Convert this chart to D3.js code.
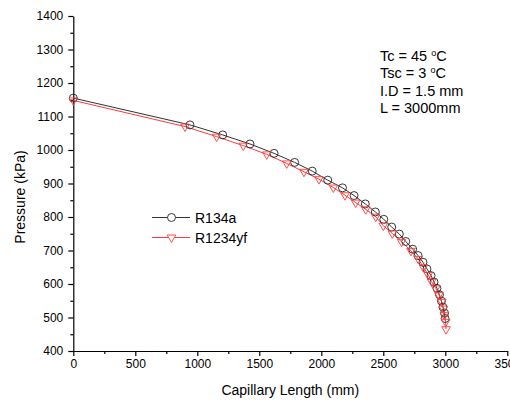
<!DOCTYPE html>
<html>
<head>
<meta charset="utf-8">
<script src="https://cdn.jsdelivr.net/npm/d3@7"></script>
<style>
  html, body { margin: 0; padding: 0; background: #fff; }
  svg { display: block; font-family: "Liberation Sans", Arial, sans-serif; }
</style>
</head>
<body>
<svg id="chart" width="510" height="403"></svg>
<script>
// ---- data ----
const xTicks = [0, 500, 1000, 1500, 2000, 2500, 3000, 3500];
const yTicks = [400, 500, 600, 700, 800, 900, 1000, 1100, 1200, 1300, 1400];

const r134aX = [0, 941, 1205, 1425, 1619, 1785, 1927, 2052, 2171, 2264, 2355, 2436, 2504, 2568, 2629, 2681, 2737, 2780, 2820, 2852, 2885, 2909, 2933, 2953, 2969, 2981, 2994, 2998];
const r134aY = [1155, 1075, 1045, 1018, 990, 963, 937, 910, 887, 864, 839, 815, 793, 770, 749, 727, 704, 685, 665, 645, 625, 606, 587, 568, 549, 531, 513, 497];

const r1234yfX = [0, 901, 1156, 1371, 1560, 1721, 1860, 1981, 2097, 2191, 2277, 2358, 2439, 2500, 2573, 2648, 2723, 2782, 2823, 2863, 2890, 2923, 2949, 2971, 2984, 2992, 3003, 3006];
const r1234yfY = [1148, 1070, 1040, 1013, 987, 960, 935, 913, 888, 865, 843, 823, 801, 774, 751, 726, 699, 675, 650, 627, 607, 587, 567, 547, 527, 507, 487, 465];

const seriesNames = ["R134a", "R1234yf"];
const annotations = ["Tc = 45 |C", "Tsc = 3 |C", "I.D = 1.5 mm", "L = 3000mm"];

// ---- chart ----
const svg = d3.select("#chart");
const x = d3.scaleLinear().domain([0, 3500]).range([73.3, 507.3]);
const y = d3.scaleLinear().domain([400, 1400]).range([351, 16]);

const xMinor = d3.range(250, 3500, 500);
const yMinor = d3.range(450, 1400, 100);

// minor ticks
svg.append("g").attr("transform", `translate(0,${y(400)})`)
  .call(d3.axisBottom(x).tickValues(xMinor).tickSize(3).tickSizeOuter(0).tickFormat(""))
  .call(g => g.select(".domain").remove())
  .call(g => g.selectAll("line").attr("stroke", "#000").attr("stroke-width", 1.2));
svg.append("g").attr("transform", `translate(${x(0)},0)`)
  .call(d3.axisLeft(y).tickValues(yMinor).tickSize(3).tickSizeOuter(0).tickFormat(""))
  .call(g => g.select(".domain").remove())
  .call(g => g.selectAll("line").attr("stroke", "#000").attr("stroke-width", 1.2));

// major axes
const xAxis = svg.append("g").attr("transform", `translate(0,${y(400)})`)
  .call(d3.axisBottom(x).tickValues(xTicks).tickSize(5).tickSizeOuter(0).tickPadding(3).tickFormat(d3.format("d")));
const yAxis = svg.append("g").attr("transform", `translate(${x(0)},0)`)
  .call(d3.axisLeft(y).tickValues(yTicks).tickSize(5).tickSizeOuter(0).tickPadding(5).tickFormat(d3.format("d")));
[xAxis, yAxis].forEach(g => {
  g.attr("font-family", null).attr("font-size", null);
  g.selectAll(".domain").attr("stroke", "#000").attr("stroke-width", 1.2);
  g.selectAll(".tick line").attr("stroke", "#000").attr("stroke-width", 1.2);
  g.selectAll(".tick text").attr("fill", "#000").style("font-size", "12px");
});

// axis titles
svg.append("text").attr("x", (x(0) + x(3500)) / 2).attr("y", 395)
  .attr("text-anchor", "middle").style("font-size", "14px").text("Capillary Length (mm)");
svg.append("text").attr("transform", "translate(20,197) rotate(-90)")
  .attr("text-anchor", "middle").attr("dy", "0.35em").style("font-size", "14px").text("Pressure (kPa)");

// series
const line = d3.line().x(d => x(d[0])).y(d => y(d[1]));
const series = [
  { name: seriesNames[0], pts: r134aX.map((v, i) => [v, r134aY[i]]), color: "#333333", mcolor: "#222", sym: d3.symbolCircle, size: 50, rot: 0 },
  { name: seriesNames[1], pts: r1234yfX.map((v, i) => [v, r1234yfY[i]]), color: "#ff3b3b", mcolor: "#ff3b3b", sym: d3.symbolTriangle, size: 32, rot: 180 }
];

series.forEach(s => {
  svg.append("path").datum(s.pts).attr("d", line)
    .attr("fill", "none").attr("stroke", s.color).attr("stroke-width", 1);
});
series.forEach(s => {
  svg.append("g").selectAll("path").data(s.pts).join("path")
    .attr("d", d3.symbol().type(s.sym).size(s.size))
    .attr("transform", d => `translate(${x(d[0])},${y(d[1])}) rotate(${s.rot})`)
    .attr("fill", "none").attr("stroke", s.mcolor).attr("stroke-width", 0.9);
});

// legend
const legY = [217.5, 237.5];
series.forEach((s, i) => {
  const g = svg.append("g");
  g.append("line").attr("x1", 152).attr("x2", 190).attr("y1", legY[i]).attr("y2", legY[i])
    .attr("stroke", s.color).attr("stroke-width", 1);
  g.append("path").attr("d", d3.symbol().type(s.sym).size(s.size))
    .attr("transform", `translate(171.5,${legY[i]}) rotate(${s.rot})`)
    .attr("fill", "#fff").attr("stroke", s.mcolor).attr("stroke-width", 0.9);
  g.append("text").attr("x", 195).attr("y", legY[i]).attr("dy", "0.36em")
    .style("font-size", "14px").text(s.name);
});

// annotation
const annY = [60.5, 78, 95.5, 113];
annotations.forEach((t, i) => {
  const txt = svg.append("text").attr("x", 380).attr("y", annY[i]).style("font-size", "14.5px");
  const parts = t.split("|");
  if (parts.length === 2) {
    txt.append("tspan").text(parts[0]);
    txt.append("tspan").attr("dy", -5).style("font-size", "9px").text("o");
    txt.append("tspan").attr("dy", 5).text("C");
  } else {
    txt.text(t);
  }
});
</script>
</body>
</html>
